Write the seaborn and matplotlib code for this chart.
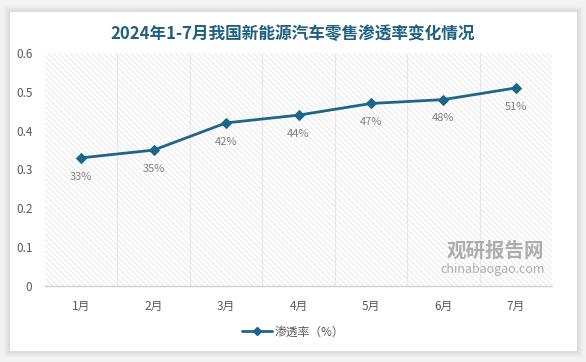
import pandas as pd
import seaborn as sns
import matplotlib.pyplot as plt
from matplotlib.patches import Rectangle
from matplotlib.lines import Line2D

# chart data
months = ['1月', '2月', '3月', '4月', '5月', '6月', '7月']
rates = [0.33, 0.35, 0.42, 0.44, 0.47, 0.48, 0.51]
rate_labels = ['33%', '35%', '42%', '44%', '47%', '48%', '51%']
y_ticks = [0, 0.1, 0.2, 0.3, 0.4, 0.5, 0.6]

title = '2024年1-7月我国新能源汽车零售渗透率变化情况'
series_name = '渗透率（%）'

df = pd.DataFrame({'month': months, 'rate': rates})
df['pos'] = range(len(df))

sns.set_style('white')
plt.rcParams['font.family'] = ['Noto Sans CJK SC', 'DejaVu Sans']
plt.rcParams['hatch.linewidth'] = 0.5
plt.rcParams['hatch.color'] = '#e0e0e0'

line_color = '#1d6688'
text_grey = '#595959'

fig = plt.figure(figsize=(5.86, 3.62), dpi=100)
fig.patch.set_facecolor('#f2f2f2')

# soft card shadow + white card
for pad, col in [(6, '#ececec'), (4, '#e4e4e4'), (2, '#dcdcdc')]:
    fig.add_artist(Rectangle(((10 - pad) / 586, (11 - pad) / 362), (567 + 2 * pad) / 586, (339 + 2 * pad) / 362,
                             transform=fig.transFigure, facecolor=col, edgecolor='none', zorder=0))
fig.add_artist(Rectangle((10 / 586, 11 / 362), 567 / 586, 339 / 362,
                         transform=fig.transFigure, facecolor='white', edgecolor='none', zorder=0))

ax = fig.add_axes([45 / 586, 1 - 286 / 362, 507 / 586, 233 / 362])
ax.set_facecolor('none')

# hatched plot area
ax.add_patch(Rectangle((0, 0), 1, 1, transform=ax.transAxes, facecolor='white',
                       hatch='\\\\\\\\\\\\', edgecolor='#e0e0e0', linewidth=0, zorder=0))

# vertical category gridlines
for b in range(1, len(months)):
    ax.axvline(b - 0.5, color='#e6e6e6', linewidth=0.8, zorder=1)

sns.lineplot(data=df, x='pos', y='rate', ax=ax, color=line_color, linewidth=2,
             marker='D', markersize=5.5, markeredgecolor=line_color, zorder=3)

for x, y, lab in zip(df['pos'], df['rate'], rate_labels):
    ax.annotate(lab, (x, y), xytext=(0, -10), textcoords='offset points',
                ha='center', va='top', fontsize=8, color='#7f7f7f')

ax.set_xlim(-0.5, len(months) - 0.5)
ax.set_ylim(0, 0.6)
ax.set_yticks(y_ticks)
ax.set_yticklabels([f'{t:g}' for t in y_ticks])
ax.set_xticks(df['pos'])
ax.set_xticklabels(months)
ax.tick_params(axis='y', length=0, pad=9, labelsize=8.5, labelcolor=text_grey)
ax.tick_params(axis='x', length=0, pad=10, labelsize=8.5, labelcolor=text_grey)
ax.set_xlabel('')
ax.set_ylabel('')
for side in ['top', 'right', 'left']:
    ax.spines[side].set_visible(False)
ax.spines['bottom'].set_color('#d0d0d0')
ax.spines['bottom'].set_linewidth(1)

# watermark
ax.text(0.985, 0.15, '观研报告网', transform=ax.transAxes, ha='right', va='center',
        fontsize=14, fontweight='bold', color='#9a9a9a', alpha=0.8, zorder=2)
ax.text(0.985, 0.07, 'chinabaogao.com', transform=ax.transAxes, ha='right', va='center',
        fontsize=9, color='#9a9a9a', alpha=0.8, zorder=2)

fig.text(0.5, 1 - 34 / 362, title, ha='center', va='center', fontsize=12,
         fontweight='bold', color='#1f5f80')

handle = Line2D([], [], color=line_color, linewidth=2, marker='D', markersize=4)
fig.legend([handle], [series_name], loc='center', bbox_to_anchor=(0.5, 1 - 332 / 362),
           frameon=False, fontsize=8.5, labelcolor=text_grey, handlelength=2.5,
           handletextpad=0.2)

fig.savefig('out.png', dpi=100)
